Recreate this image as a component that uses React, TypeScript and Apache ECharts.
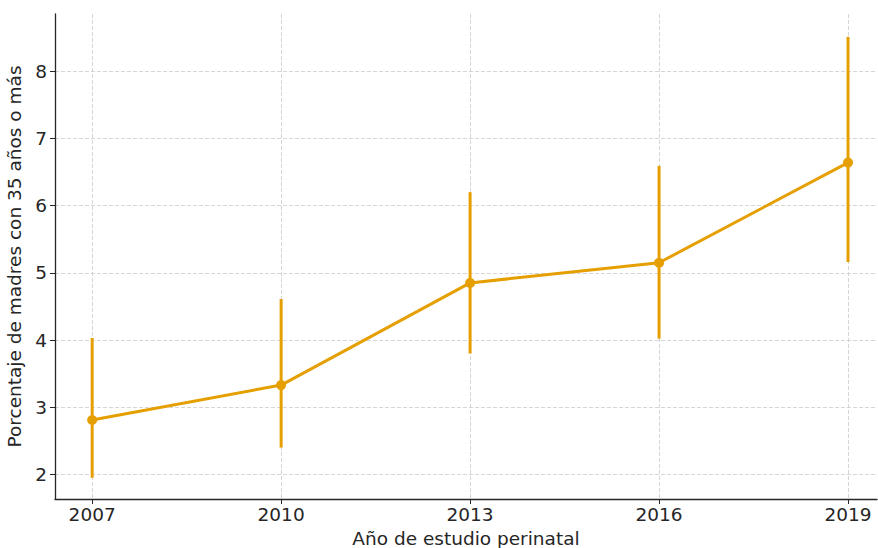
import React, { useEffect, useRef } from "react";
import * as echarts from "echarts";

const years = [2007, 2010, 2013, 2016, 2019];
const values = [2.81, 3.33, 4.85, 5.15, 6.64];
const lower = [1.95, 2.4, 3.8, 4.02, 5.16];
const upper = [4.03, 4.61, 6.2, 6.59, 8.51];
const yTicks = [2, 3, 4, 5, 6, 7, 8];

const COLOR = "#E69F00";
const FONT = "DejaVu Sans";
const FS = 18.5;

export default function App() {
  const ref = useRef<HTMLDivElement>(null);
  useEffect(() => {
    document.body.style.margin = "0";
    const chart = echarts.init(ref.current!, null, { renderer: "svg" });
    const errData = years.map((y, i) => [y, lower[i], upper[i]]);
    chart.setOption({
      animation: false,
      backgroundColor: "#ffffff",
      grid: { left: 55, top: 14, right: 1, bottom: 49, outerBoundsMode: "none", containLabel: false },
      xAxis: {
        type: "value",
        min: 2006.41,
        max: 2019.46,
        name: "Año de estudio perinatal",
        nameLocation: "middle",
        nameGap: 29,
        nameTextStyle: { fontFamily: FONT, fontSize: FS, color: "#262626" },
        axisLine: { show: true, lineStyle: { color: "#262626", width: 1.3 } },
        axisTick: { show: true, length: 5, customValues: years, lineStyle: { color: "#262626" } },
        axisLabel: {
          customValues: years,
          formatter: (v: number) => String(v),
          fontFamily: FONT,
          fontSize: FS,
          color: "#262626",
          margin: 6,
        },
        splitLine: { show: true, lineStyle: { color: "#cccccc", type: [4, 2], width: 0.8 } },
      },
      yAxis: {
        type: "value",
        min: 1.635,
        max: 8.85,
        name: "Porcentaje de madres con 35 años o más",
        nameLocation: "middle",
        nameGap: 25,
        nameTextStyle: { fontFamily: FONT, fontSize: FS, color: "#262626" },
        axisLine: { show: true, lineStyle: { color: "#262626", width: 1.3 } },
        axisTick: { show: true, length: 5, customValues: yTicks, lineStyle: { color: "#262626" } },
        axisLabel: {
          customValues: yTicks,
          fontFamily: FONT,
          fontSize: FS,
          color: "#262626",
          margin: 8,
        },
        splitLine: { show: true, lineStyle: { color: "#cccccc", type: [4, 2], width: 0.8 } },
      },
      series: [
        {
          type: "custom",
          data: errData,
          z: 2,
          renderItem: (params: any, api: any) => {
            const x = api.value(0);
            const p1 = api.coord([x, api.value(1)]);
            const p2 = api.coord([x, api.value(2)]);
            return {
              type: "line",
              shape: { x1: p1[0], y1: p1[1], x2: p2[0], y2: p2[1] },
              style: { stroke: COLOR, lineWidth: 3 },
            };
          },
        },
        {
          type: "line",
          data: years.map((y, i) => [y, values[i]]),
          z: 3,
          symbol: "circle",
          symbolSize: 10,
          itemStyle: { color: COLOR },
          lineStyle: { color: COLOR, width: 3 },
        },
      ],
    });
    return () => chart.dispose();
  }, []);
  return (
    <div
      ref={ref}
      style={{ position: "fixed", left: 0, top: 0, width: 878, height: 548 }}
    />
  );
}
